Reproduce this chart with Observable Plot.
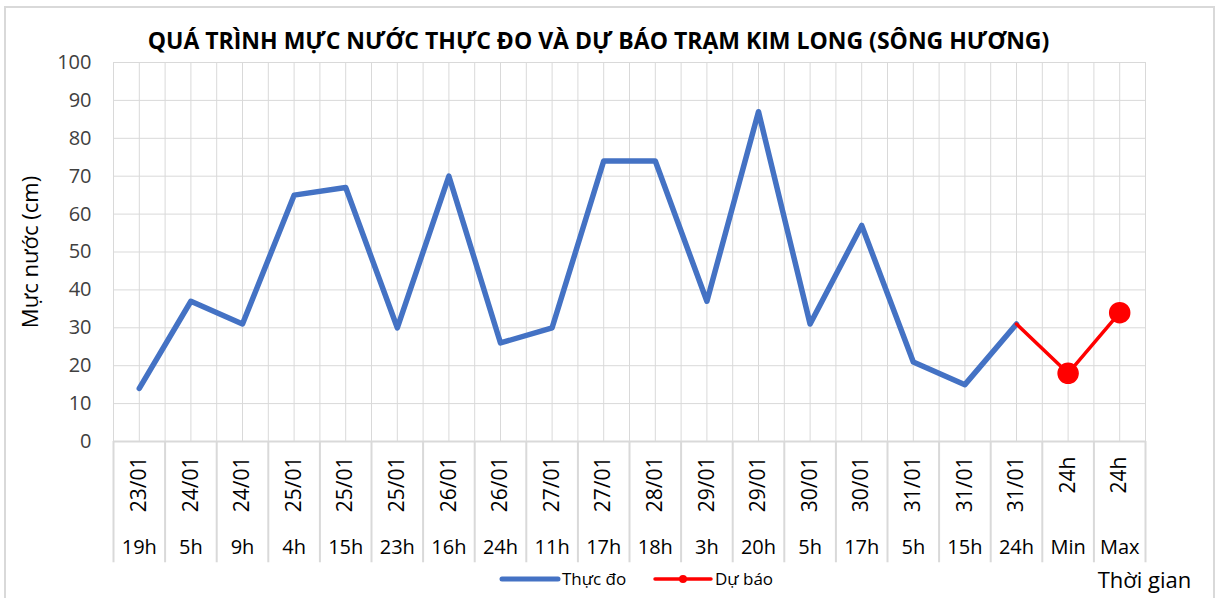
<!DOCTYPE html>
<html><head><meta charset="utf-8">
<script src="https://cdn.jsdelivr.net/npm/d3@7"></script>
<script src="https://cdn.jsdelivr.net/npm/@observablehq/plot@0.6"></script>
<style>
body{margin:0;background:#fff;font-family:"Open Sans",sans-serif}
#chart svg{display:block}
</style>
</head><body><div id="chart"></div>
<script>
const title = "QUÁ TRÌNH MỰC NƯỚC THỰC ĐO VÀ DỰ BÁO TRẠM KIM LONG (SÔNG HƯƠNG)";
const yLabel = "Mực nước (cm)";
const xLabel = "Thời gian";
const dates = ["23/01","24/01","24/01","25/01","25/01","25/01","26/01","26/01","27/01","27/01","28/01","29/01","29/01","30/01","30/01","31/01","31/01","31/01","24h","24h"];
const hours = ["19h","5h","9h","4h","15h","23h","16h","24h","11h","17h","18h","3h","20h","5h","17h","5h","15h","24h","Min","Max"];
const observed = [14,37,31,65,67,30,70,26,30,74,74,37,87,31,57,21,15,31,null,null];
const forecast = [null,null,null,null,null,null,null,null,null,null,null,null,null,null,null,null,null,31,18,34];
const yTicks = [0,10,20,30,40,50,60,70,80,90,100];
const seriesNames = ["Thực đo","Dự báo"];

const rows = dates.map((d,i)=>({i, date:d, hour:hours[i], obs:observed[i], fc:forecast[i]}));
const n = rows.length;
const halfGrid = d3.range(-0.5, n - 0.5 + 0.01, 0.5);
const bounds = d3.range(-0.5, n - 0.5 + 0.01, 1);

const BLUE = "#4472C4", RED = "#FF0000", GRID = "#d9d9d9";
const FONT = "'Open Sans', sans-serif";

const chart = Plot.plot({
  width: 1217, height: 598,
  marginTop: 62, marginRight: 72, marginBottom: 157, marginLeft: 113,
  style: {fontFamily: FONT, color: "#404040", background: "#fff", overflow: "visible"},
  x: {type: "linear", domain: [-0.5, n - 0.5], axis: null},
  y: {domain: [0, 100], axis: null},
  marks: [
    Plot.gridX(halfGrid, {stroke: GRID, strokeOpacity: 1, strokeWidth: 1}),
    Plot.gridY(yTicks, {stroke: GRID, strokeOpacity: 1, strokeWidth: 1}),
    Plot.ruleY([0], {stroke: GRID, strokeWidth: 2}),
    Plot.ruleX(bounds, {x: d => d, y1: 0, y2: -32, stroke: GRID, strokeWidth: 2}),
    Plot.axisY(yTicks, {tickSize: 0, tickPadding: 22, fontSize: 20, fill: "#404040", label: null}),
    Plot.text(rows, {x: "i", y: 0, text: "date", rotate: -90, textAnchor: "end", dy: 15, fontSize: 21, fill: "#000"}),
    Plot.text(rows, {x: "i", y: 0, text: "hour", dy: 106, fontSize: 20, fill: "#000"}),
    Plot.line(rows, {x: "i", y: "obs", stroke: BLUE, strokeWidth: 5.5}),
    Plot.line(rows, {x: "i", y: "fc", stroke: RED, strokeWidth: 3.5}),
    Plot.dot(rows, {filter: d => d.fc != null && d.obs == null, x: "i", y: "fc", r: 10, fill: RED, stroke: RED}),
    Plot.text([yLabel], {frameAnchor: "left", rotate: -90, textAnchor: "middle", lineAnchor: "middle", dx: -83, fontSize: 22, fill: "#000"}),
    Plot.text([title], {frameAnchor: "top", lineAnchor: "middle", dx: -31, dy: -21, fontSize: 23, fontWeight: "bold", fill: "#000"}),
    Plot.text([xLabel], {frameAnchor: "bottom-right", textAnchor: "middle", lineAnchor: "middle", dx: -1, dy: 139, fontSize: 22, fill: "#000"})
  ]
});

const svg = d3.select(chart);
svg.insert("rect", ":first-child").attr("x", 5).attr("y", 7).attr("width", 1209).attr("height", 620)
  .attr("fill", "#fff").attr("stroke", GRID).attr("stroke-width", 2);

const leg = svg.append("g").attr("font-family", FONT).attr("font-size", 17).attr("text-anchor", "start");
const items = [
  {name: seriesNames[0], color: BLUE, w: 5, dot: false, x: 502},
  {name: seriesNames[1], color: RED, w: 3.5, dot: true, x: 655}
];
for (const it of items) {
  leg.append("line").attr("x1", it.x).attr("x2", it.x + 56).attr("y1", 579).attr("y2", 579)
    .attr("stroke", it.color).attr("stroke-width", it.w).attr("stroke-linecap", "round");
  if (it.dot) leg.append("circle").attr("cx", it.x + 28).attr("cy", 579).attr("r", 4).attr("fill", it.color);
  leg.append("text").attr("x", it.x + 60).attr("y", 579).attr("dy", "0.35em").attr("fill", "#000").text(it.name);
}

document.getElementById("chart").append(chart);
</script>
</body></html>
